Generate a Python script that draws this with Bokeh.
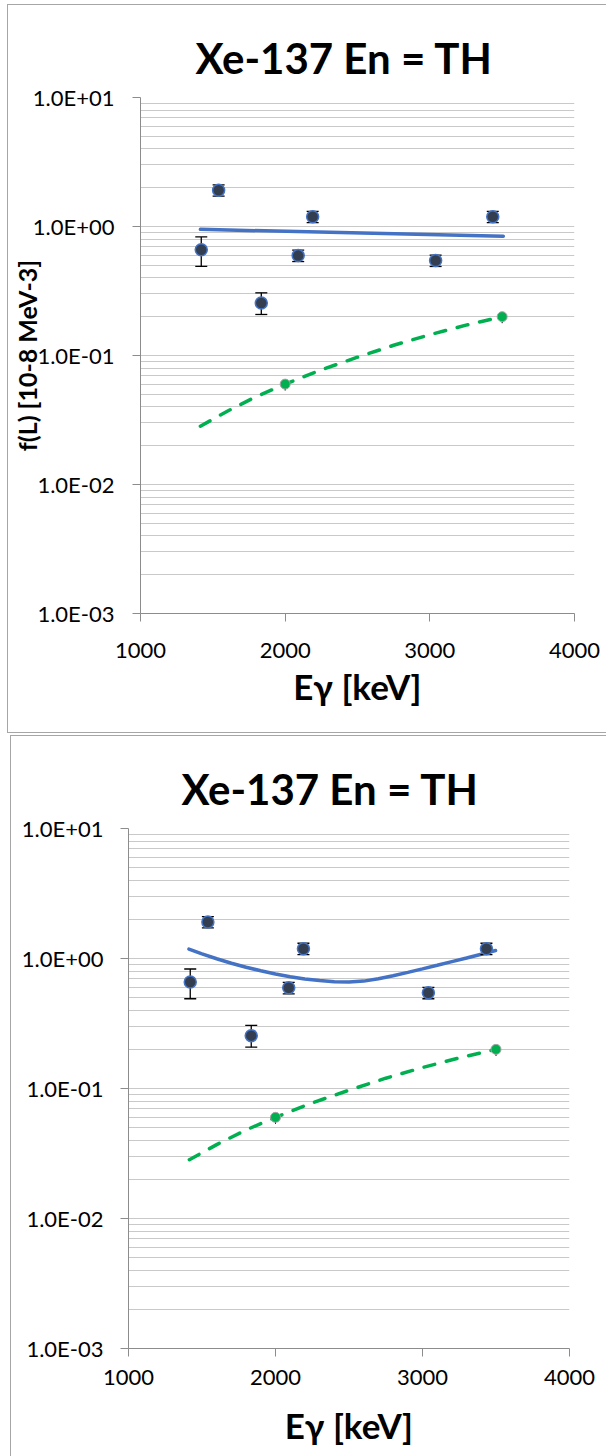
from bokeh.plotting import figure
from bokeh.models import FixedTicker, Range1d
from bokeh.embed import file_html
from bokeh.resources import INLINE

# ---------------- data ----------------
title_text = "Xe-137 En = TH"
x_label = "Eγ [keV]"
y_label = "f(L) [10-8 MeV-3]"

x_ticks = [1000, 2000, 3000, 4000]
x_tick_labels = ["1000", "2000", "3000", "4000"]
y_ticks = [0.001, 0.01, 0.1, 1.0, 10.0]
y_tick_labels = ["1.0E-03", "1.0E-02", "1.0E-01", "1.0E+00", "1.0E+01"]

# measured points
eg = [1420, 1540, 1835, 2090, 2190, 3040, 3435]
fl = [0.66, 1.91, 0.255, 0.595, 1.19, 0.545, 1.19]
fl_lo = [0.49, 1.72, 0.208, 0.535, 1.07, 0.49, 1.07]
fl_hi = [0.83, 2.10, 0.306, 0.655, 1.31, 0.60, 1.31]

# blue fit, top chart
fit_top_x = [1414, 3508]
fit_top_y = [0.95, 0.84]

# blue fit, bottom chart
fit_bot_x = [1411, 1500, 1600, 1700, 1800, 1900, 2000, 2100, 2200, 2300, 2400,
             2500, 2600, 2700, 2800, 2900, 3000, 3100, 3200, 3300, 3400, 3497]
fit_bot_y = [1.180, 1.084, 0.995, 0.920, 0.857, 0.804, 0.759, 0.723, 0.695, 0.676, 0.662,
             0.659, 0.670, 0.698, 0.736, 0.782, 0.832, 0.887, 0.946, 1.009, 1.079, 1.151]

# green dashed model
model_x = [1414, 1600, 1800, 2000, 2250, 2500, 2750, 3000, 3250, 3500]
model_y = [0.0283, 0.037, 0.048, 0.060, 0.0775, 0.097, 0.12, 0.145, 0.172, 0.20]
model_pts_x = [2000, 3500]
model_pts_y = [0.060, 0.200]
model_pts_lo = [0.0535, 0.178]

FONT = "Lato"
GRID = "#c9c9c9"
AXIS = "#8c8c8c"
BORDER = "#a6a6a6"

minor = [k * 10.0 ** e for e in range(-3, 1) for k in range(2, 10)]


def make_chart(width, height, mb, title_offset, title_standoff, with_ylabel,
               xstand, xlabstand, ystand, fit_x, fit_y, margin, styles):
    p = figure(width=width, height=height, y_axis_type="log",
               x_range=Range1d(1000, 4000), y_range=Range1d(0.001, 10),
               output_backend="svg", toolbar_location=None,
               min_border_left=mb[0], min_border_right=mb[1],
               min_border_top=mb[2], min_border_bottom=mb[3],
               margin=margin, styles=styles)
    p.outline_line_color = None
    p.background_fill_color = "white"
    p.border_fill_color = "white"

    p.title.text = title_text
    p.title.align = "left"
    p.title.offset = title_offset
    p.title.standoff = title_standoff
    p.title.text_font = FONT
    p.title.text_font_size = "42px"
    p.title.text_font_style = "bold"
    p.title.text_color = "black"

    p.xaxis.ticker = FixedTicker(ticks=x_ticks)
    p.xaxis.major_label_overrides = dict(zip(x_ticks, x_tick_labels))
    p.yaxis.ticker = FixedTicker(ticks=y_ticks, minor_ticks=minor)
    p.yaxis.major_label_overrides = dict(zip(y_ticks, y_tick_labels))

    for ax in (p.xaxis, p.yaxis):
        ax.axis_line_color = AXIS
        ax.major_tick_line_color = AXIS
        ax.major_tick_in = 0
        ax.major_tick_out = 8
        ax.minor_tick_line_color = None
        ax.major_label_text_font = FONT
        ax.major_label_text_color = "black"
    p.xaxis.major_label_text_font_size = "22px"
    p.yaxis.major_label_text_font_size = "22px"
    p.xaxis.major_label_standoff = xstand
    p.yaxis.major_label_standoff = ystand

    p.xaxis.axis_label = x_label
    p.xaxis.axis_label_text_font = FONT
    p.xaxis.axis_label_text_font_size = "35px"
    p.xaxis.axis_label_text_font_style = "bold"
    p.xaxis.axis_label_text_color = "black"
    p.xaxis.axis_label_standoff = xlabstand
    if with_ylabel:
        p.yaxis.axis_label = y_label
        p.yaxis.axis_label_text_font = FONT
        p.yaxis.axis_label_text_font_size = "25px"
        p.yaxis.axis_label_text_font_style = "bold"
        p.yaxis.axis_label_text_color = "black"
        p.yaxis.axis_label_standoff = -12

    p.xgrid.grid_line_color = None
    p.ygrid.grid_line_color = GRID
    p.ygrid.minor_grid_line_color = GRID

    # lines
    p.line(fit_x, fit_y, line_color="#4472c4", line_width=3.5, line_cap="round")
    p.line(model_x, model_y, line_color="#00b050", line_width=3.5,
           line_dash="11 12", line_cap="round")

    # error bars
    p.segment(x0=eg, y0=fl_lo, x1=eg, y1=fl_hi, line_color="black", line_width=1.3)
    p.scatter(eg, fl_lo, marker="dash", size=12, line_color="black", line_width=1.3)
    p.scatter(eg, fl_hi, marker="dash", size=12, line_color="black", line_width=1.3)
    p.segment(x0=model_pts_x, y0=model_pts_lo, x1=model_pts_x, y1=model_pts_y,
              line_color="black", line_width=1)

    # markers
    p.scatter(eg, fl, marker="circle", size=12, fill_color="#333f50",
              line_color="#4472c4", line_width=1.5)
    p.scatter(model_pts_x, model_pts_y, marker="circle", size=10,
              fill_color="#00b050", line_color="#a5a5a5", line_width=1)
    return p


p1 = make_chart(599, 729, (130, 33, 92, 121), 55, 30, True, 21, 4, 18,
                fit_top_x, fit_top_y, (4, 0, 0, 7),
                {"border-top": f"1px solid {BORDER}", "border-left": f"1px solid {BORDER}",
                 "border-bottom": f"1px solid {BORDER}"})
p2 = make_chart(596, 721, (117, 38, 92, 109), 53, 30, False, 13, 16, 17,
                fit_bot_x, fit_bot_y, (2, 0, 0, 10),
                {"border-top": f"1px solid {BORDER}", "border-left": f"1px solid {BORDER}"})

p = [p1, p2]
open("out.html", "w").write(file_html(p, INLINE))
